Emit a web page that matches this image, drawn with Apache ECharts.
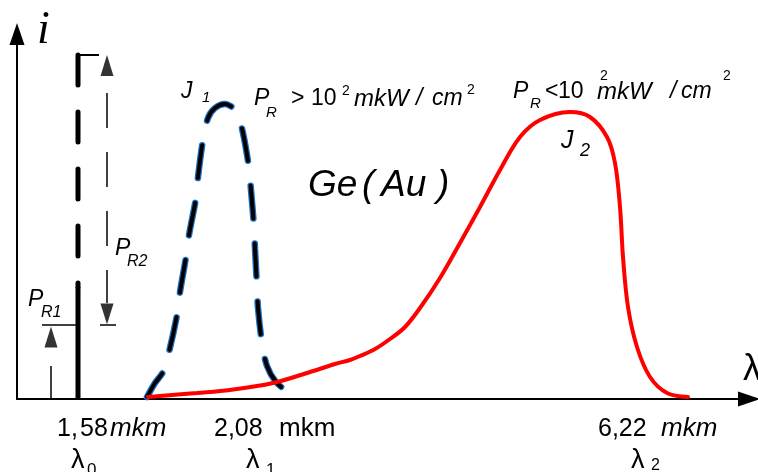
<!DOCTYPE html>
<html>
<head>
<meta charset="utf-8">
<title>Ge(Au)</title>
<script src="https://cdn.jsdelivr.net/npm/echarts@6.0.0/dist/echarts.min.js"></script>
<style>
html,body{margin:0;padding:0;background:#fff;overflow:hidden;}
#chart{width:758px;height:472px;}
</style>
</head>
<body>
<div id="chart"></div>
<script>
/* spectral curves: x = place on the lambda axis, i = photocurrent (arb. units) */
var j1X = [130,138,146,152,160,163,169,172,179,181,186,191,198,208,215,220,226,232,234,237,238,240,241,245,250,259,272];
var j1I = [2,16,27,47,84,107,142,164,201,222,259,281,291,295,292,287,266,231,209,172,150,112,91,56,33,17,6];

var j2X = [131,180,213,256,293,318,333,343,358,373,388,403,423,443,463,483,503,523,553,573,590,598,603,606,611,620,633,650,671];
var j2I = [2,6,9,16,27,35,39,43,50,60,72,91,121,156,192,229,262,279,287,282,262,236,192,142,92,52,22,6,2];

/* lambda0 line */
var lam0Solid = [[61,0],[61,112]];
var lam0Dash = [[61,344],[61,112]];
var lam0Cap = [[60,344],[82,344]];

/* P_R2 arrow */
var pr2Shaft = [[90,323],[90,96]];
var pr2Tick = [[83,74],[99,74]];
/* P_R1 arrow */
var pr1Shaft = [[34,0],[34,33]];
var pr1Tick = [[25,74],[61,74]];

/* arrow heads: x, i, rotate */
var headX = [90, 90, 34];
var headI = [333.5, 85, 62];
var headRot = [0, 180, 0];

function zip(xs, ys){
    var out = [];
    for (var i = 0; i < xs.length; i++){
        out.push([xs[i], ys[i]]);
    }
    return out;
}

var SANS = '"Liberation Sans", Arial, sans-serif';

/* text piece, y = middle of the line box */
function t(str, x, y, size, italic, family){
    return {
        type: 'text',
        x: x,
        y: y,
        z: 100,
        style: {
            text: str,
            fill: '#000',
            font: (italic ? 'italic ' : '') + size + 'px ' + (family || SANS),
            align: 'left',
            verticalAlign: 'middle'
        }
    };
}

function seg(data, width, type, offset){
    return {
        type: 'line',
        data: data,
        symbol: 'none',
        silent: true,
        lineStyle: {color: '#000', width: width, type: type || 'solid', dashOffset: offset || 0, cap: 'butt'}
    };
}

var chart = echarts.init(document.getElementById('chart'));

var heads = [];
for (var k = 0; k < headX.length; k++){
    heads.push({value: [headX[k], headI[k]], symbolRotate: headRot[k]});
}

var dashedBlack = seg(lam0Dash, 5, [30, 27], 0);
dashedBlack.lineStyle.cap = 'round';

var option = {
    animation: false,
    grid: {left: 17, right: 9, top: 34, bottom: 73},
    xAxis: {
        type: 'value', min: 0, max: 732,
        axisLine: {show: true, onZero: false, symbol: ['none', 'triangle'], symbolSize: [15, 22],
            lineStyle: {color: '#000', width: 2}},
        axisTick: {show: false}, axisLabel: {show: false}, splitLine: {show: false}
    },
    yAxis: {
        type: 'value', min: 0, max: 365,
        axisLine: {show: true, onZero: false, symbol: ['none', 'triangle'], symbolSize: [15, 22],
            lineStyle: {color: '#000', width: 2}},
        axisTick: {show: false}, axisLabel: {show: false}, splitLine: {show: false}
    },
    series: [
        seg(lam0Solid, 5),
        dashedBlack,
        seg(lam0Cap, 2),
        seg(pr2Shaft, 1.5, [35, 24], 42),
        seg(pr2Tick, 1.5),
        seg(pr1Shaft, 1.5),
        seg(pr1Tick, 1.5),
        {
            type: 'scatter',
            data: heads,
            symbol: 'triangle',
            symbolSize: [13, 21],
            itemStyle: {color: '#000'},
            silent: true
        },
        {
            // J1 - blue rim
            type: 'line', data: zip(j1X, j1I), smooth: 0.3, symbol: 'none', silent: true,
            lineStyle: {color: '#1d6fc2', width: 6.5, type: [33, 25], dashOffset: 5, cap: 'round'}
        },
        {
            // J1
            type: 'line', data: zip(j1X, j1I), smooth: 0.3, symbol: 'none', silent: true,
            lineStyle: {color: '#000', width: 4, type: [33, 25], dashOffset: 5, cap: 'round'}
        },
        {
            // J2
            type: 'line', data: zip(j2X, j2I), smooth: 0.35, symbol: 'none', silent: true,
            lineStyle: {color: '#ff0000', width: 4, cap: 'round'}
        }
    ],
    graphic: [
        t('i', 37, 31, 46, true, '"Liberation Serif", serif'),
        t('\u03bb', 743, 370, 36, false),

        t('J', 181, 92, 23, true),
        t('1', 202, 98, 15, true),
        t('P', 254, 99, 23, true),
        t('R', 266, 113, 15, true),
        t('>', 291, 99, 23, false),
        t('10', 311, 99, 23, false),
        t('2', 342, 91, 14, false),
        t('mkW', 354, 99, 24, true),
        t('/', 416, 99, 23, true),
        t('cm', 432, 99, 23, true),
        t('2', 467, 90, 14, false),

        t('P', 513, 92, 23, true),
        t('R', 530, 104, 15, true),
        t('<', 545, 92, 23, false),
        t('10', 558, 92, 23, false),
        t('2', 600, 76, 14, false),
        t('mkW', 597, 92, 24, true),
        t('/', 670, 92, 23, true),
        t('cm', 681, 92, 23, true),
        t('2', 723, 76, 14, false),
        t('J', 561, 141, 25, true),
        t('2', 580, 151, 18, true),

        t('Ge', 308, 186, 37, true),
        t('(', 362, 186, 37, true),
        t('Au', 381, 186, 37, true),
        t(')', 437, 186, 37, true),

        t('P', 115, 249, 23, true),
        t('R2', 127, 262, 16, true),
        t('P', 28, 300, 23, true),
        t('R1', 41, 313, 16, true),

        t('1,', 57, 429, 25, false),
        t('58', 80, 429, 25, false),
        t('mkm', 110, 429, 26, true),
        t('2,08', 214, 429, 25, false),
        t('mkm', 279, 429, 26, false),
        t('6,22', 598, 429, 25, false),
        t('mkm', 661, 429, 26, true),

        t('\u03bb', 71, 461, 27, false),
        t('0', 87, 470, 17, false),
        t('\u03bb', 246, 461, 27, false),
        t('1', 266, 470, 17, false),
        t('\u03bb', 631, 461, 27, false),
        t('2', 651, 466, 16, false)
    ]
};

chart.setOption(option);
</script>
</body>
</html>
